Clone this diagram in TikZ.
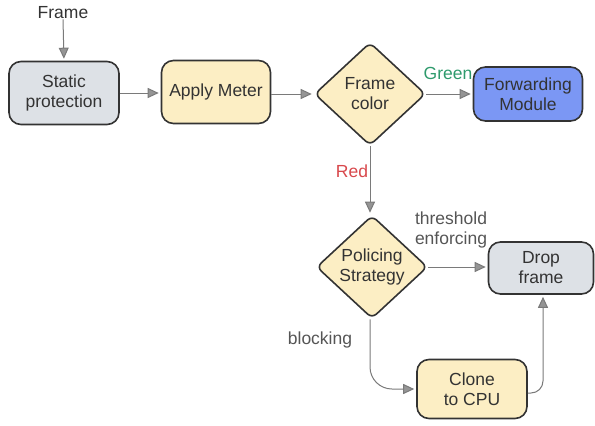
\documentclass[tikz,border=0pt]{standalone}
\usepackage{fontspec}
\setmainfont{Liberation Sans}
\usetikzlibrary{shapes.geometric,arrows.meta}

\definecolor{boxgray}{HTML}{DDE1E6}
\definecolor{boxyellow}{HTML}{FCEEC4}
\definecolor{boxblue}{HTML}{7B97F4}
\definecolor{linegray}{HTML}{7A7A7A}
\definecolor{inkgray}{HTML}{333333}
\definecolor{labelgray}{HTML}{555555}
\definecolor{greenlabel}{HTML}{2E9A6C}
\definecolor{redlabel}{HTML}{D8484C}

\tikzset{
  procbox/.style={draw=inkgray, line width=1.6pt, rounded corners=12pt,
    align=center, text=inkgray, inner sep=0pt},
  decision/.style={draw=inkgray, line width=1.6pt, diamond, rounded corners=6pt,
    align=center, text=inkgray, inner sep=0pt, fill=boxyellow,
    minimum width=111pt, minimum height=103pt},
  flowarrow/.style={draw=linegray, line width=1pt,
    -{Triangle[width=10pt,length=11pt,fill=linegray!80]}, shorten >=2pt},
  edgelabel/.style={text=labelgray, align=center, inner sep=0pt}
}

\begin{document}
\begin{tikzpicture}[x=1pt,y=-1pt,font=\fontsize{17.5}{20}\selectfont]

  \useasboundingbox (0,0) rectangle (595,426);

  % input
  \node[edgelabel, text=inkgray] (frame) at (63,13) {Frame};

  % first row
  \node[procbox, fill=boxgray, minimum width=110pt, minimum height=63pt]
    (static) at (64,93) {Static\\protection};
  \node[procbox, fill=boxyellow, minimum width=109pt, minimum height=63pt]
    (meter) at (216,92) {Apply Meter};
  \node[decision] (color) at (370,94) {Frame\\color};
  \node[procbox, fill=boxblue, minimum width=109pt, minimum height=54pt]
    (fwd) at (528,94) {Forwarding\\Module};

  % second part
  \node[decision] (policing) at (372,267) {Policing\\Strategy};
  \node[procbox, fill=boxgray, minimum width=105pt, minimum height=52pt]
    (drop) at (541,268) {Drop\\frame};
  \node[procbox, fill=boxyellow, minimum width=110pt, minimum height=59pt]
    (clone) at (472,389) {Clone\\to CPU};

  % connectors
  \draw[flowarrow] (frame.south) -- (static.north);
  \draw[flowarrow] (static.east) -- (meter.west |- static.east);
  \draw[flowarrow] (meter.east |- color.west) -- (color.west);
  \draw[flowarrow] (color.east) -- (fwd.west);
  \draw[flowarrow] (color.south) -- (policing.north -| color.south);
  \draw[flowarrow] (policing.east) -- (drop.west |- policing.east);
  \draw[flowarrow, rounded corners=22pt] (policing.south -| color.south) |- (clone.west);
  \draw[flowarrow, rounded corners=12pt] ([yshift=-4pt]clone.east) -| ([xshift=2pt]drop.south);

  % edge labels
  \node[edgelabel, text=greenlabel] (green) at (448,73) {Green};
  \node[edgelabel, text=redlabel] (red) at (352,171) {Red};
  \node[edgelabel] (threshold) at (451,230) {threshold\\enforcing};
  \node[edgelabel] (blocking) at (320,340) {blocking};

\end{tikzpicture}
\end{document}
